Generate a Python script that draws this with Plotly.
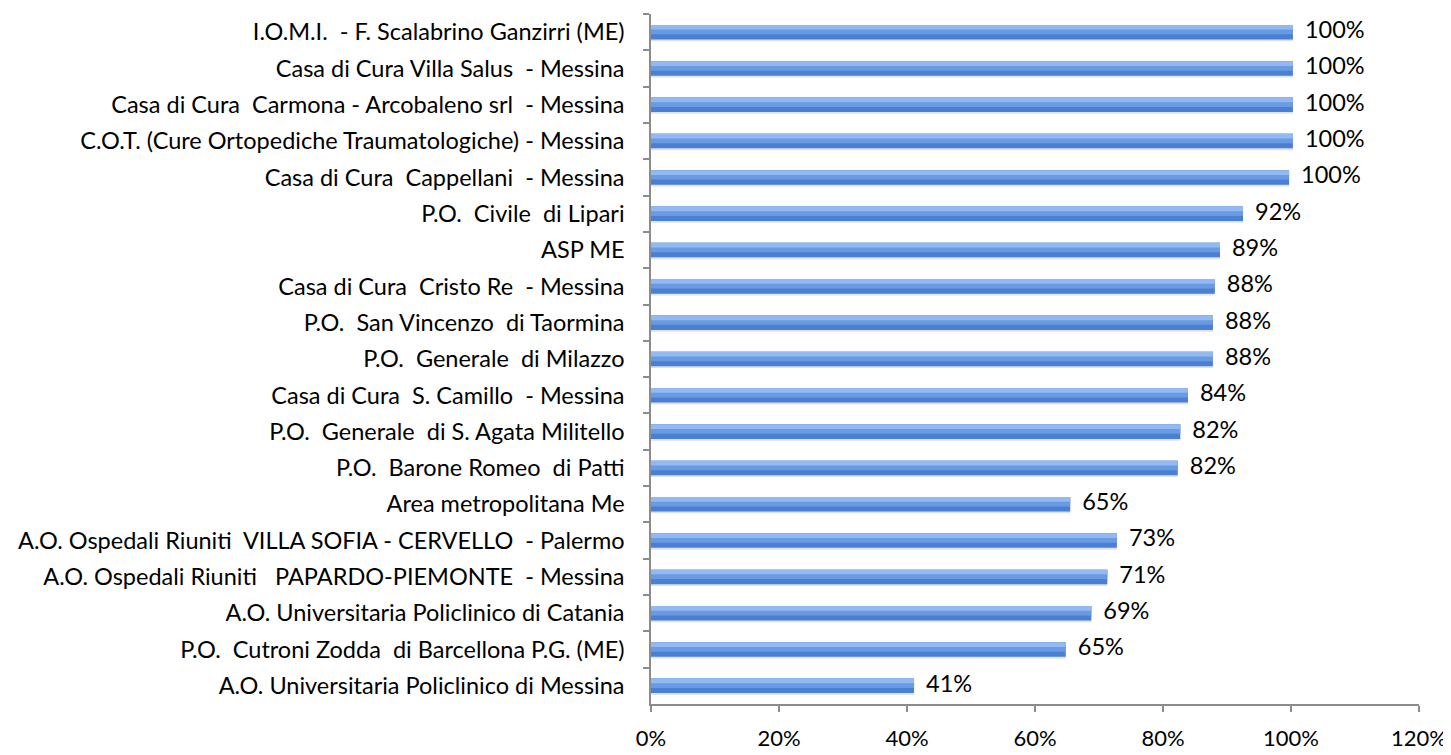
import plotly.graph_objects as go

categories = [
    "I.O.M.I.  - F. Scalabrino Ganzirri (ME)",
    "Casa di Cura Villa Salus  - Messina",
    "Casa di Cura  Carmona - Arcobaleno srl  - Messina",
    "C.O.T. (Cure Ortopediche Traumatologiche) - Messina",
    "Casa di Cura  Cappellani  - Messina",
    "P.O.  Civile  di Lipari",
    "ASP ME",
    "Casa di Cura  Cristo Re  - Messina",
    "P.O.  San Vincenzo  di Taormina",
    "P.O.  Generale  di Milazzo",
    "Casa di Cura  S. Camillo  - Messina",
    "P.O.  Generale  di S. Agata Militello",
    "P.O.  Barone Romeo  di Patti",
    "Area metropolitana Me",
    "A.O. Ospedali Riuniti  VILLA SOFIA - CERVELLO  - Palermo",
    "A.O. Ospedali Riuniti   PAPARDO-PIEMONTE  - Messina",
    "A.O. Universitaria Policlinico di Catania",
    "P.O.  Cutroni Zodda  di Barcellona P.G. (ME)",
    "A.O. Universitaria Policlinico di Messina",
]
values = [100.3, 100.3, 100.3, 100.3, 99.7, 92.5, 88.9, 88.1, 87.8, 87.8,
          83.9, 82.7, 82.3, 65.5, 72.8, 71.3, 68.8, 64.8, 41.1]
labels = ["100%", "100%", "100%", "100%", "100%", "92%", "89%", "88%", "88%", "88%",
          "84%", "82%", "82%", "65%", "73%", "71%", "69%", "65%", "41%"]
x_ticks = [0, 20, 40, 60, 80, 100, 120]
x_ticktext = ["0%", "20%", "40%", "60%", "80%", "100%", "120%"]

FONT = "Lato"
FS = 23.5

fig = go.Figure()
# soft shadow
fig.add_trace(go.Bar(y=categories, x=values, orientation="h", width=0.42, offset=-0.17,
                     marker=dict(color="rgba(120,120,120,0.22)", line_width=0),
                     hoverinfo="skip", showlegend=False))
# main bar (darker lower part)
fig.add_trace(go.Bar(y=categories, x=values, orientation="h", width=0.4, offset=-0.2,
                     marker=dict(color="#4a80d3", line_width=0), showlegend=False))
# mid band
fig.add_trace(go.Bar(y=categories, x=values, orientation="h", width=0.26, offset=-0.2,
                     marker=dict(color="#6a9be2", line_width=0), hoverinfo="skip", showlegend=False))
# light top highlight
fig.add_trace(go.Bar(y=categories, x=values, orientation="h", width=0.13, offset=-0.2,
                     marker=dict(color="#93b9f2", line_width=0), hoverinfo="skip", showlegend=False))
# value labels
fig.add_trace(go.Scatter(y=categories, x=values, mode="text", text=["  " + t for t in labels],
                         textposition="middle right",
                         textfont=dict(family=FONT, size=FS, color="#000000"),
                         hoverinfo="skip", showlegend=False, cliponaxis=False))

fig.update_layout(
    width=1451, height=755,
    barmode="overlay",
    plot_bgcolor="white", paper_bgcolor="white",
    margin=dict(l=643, r=40, t=6, b=59, autoexpand=False),
    font=dict(family=FONT, size=FS, color="#000000"),
)
fig.update_xaxes(range=[0, 120], tickvals=x_ticks, ticktext=x_ticktext,
                 showgrid=False, zeroline=False, automargin=False,
                 showline=True, linecolor="#8c8c8c", linewidth=1.5,
                 ticks="outside", ticklen=6, tickcolor="#8c8c8c", tickwidth=1.5,
                 ticklabelstandoff=8, tickfont=dict(family=FONT, size=22))
fig.update_yaxes(range=[len(categories) - 0.5, -0.5], type="category", tickson="boundaries",
                 showgrid=False, zeroline=False, automargin=False,
                 showline=True, linecolor="#8c8c8c", linewidth=1.5,
                 ticks="outside", ticklen=6, tickcolor="#8c8c8c", tickwidth=1.5,
                 ticklabelstandoff=20, tickfont=dict(family=FONT, size=FS))

fig.write_html("out.html")
